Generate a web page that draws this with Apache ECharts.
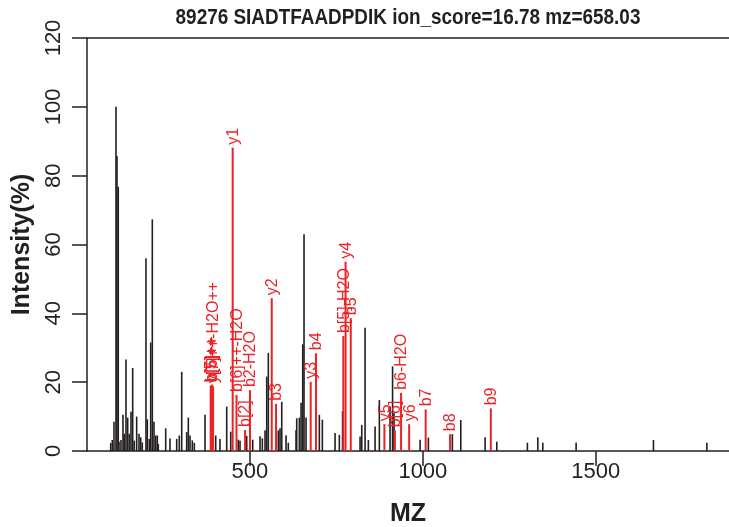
<!DOCTYPE html>
<html><head><meta charset="utf-8">
<script src="https://cdn.jsdelivr.net/npm/echarts@6/dist/echarts.min.js"></script>
<style>html,body{margin:0;padding:0;background:#fff}#c{width:729px;height:527px}</style>
</head><body><div id="c"></div>
<script>
// ---- data ----
const titleText = '89276 SIADTFAADPDIK ion_score=16.78 mz=658.03';
const xTicks = [500, 1000, 1500];
const yTicks = [0, 20, 40, 60, 80, 100, 120];

// unassigned peaks (black)
const peakMz = [97.5,102.1,107,112.8,115.7,119.4,121.5,127.2,133,136.8,141.7,146.6,151.2,156.2,161.1,165.7,172.6,179.3,184.2,188.8,
  199.5,203.3,209,213.1,217.8,222.7,227.6,232.2,235.1,256.5,268.9,288.3,295.8,302.8,317.2,321.9,326.8,333.4,339.2,370.2,
  401.1,413.5,432.9,444.5,466.5,471.4,490.7,508.1,529.2,535.9,543.7,548.6,553.2,582.1,587,592,604.4,611,633.3,635.3,
  642.9,647.8,652.7,656.4,662.2,700.7,709.4,746.1,758.5,767.8,818.4,823.3,832.9,842.4,861.8,874.2,905.1,912.4,916.7,991.9,
  1015.9,1085.3,1109.6,1179.9,1213.7,1302.2,1332.3,1346.7,1443,1666.6,1821];
const peakInt = [2.3,3.2,8.5,100,85.7,76.8,2.7,3.2,10.5,5,26.6,9.7,5,11.4,24.1,3,10,5,4,2.5,
  56,9.2,3.5,31.5,67.3,8.5,4.5,4.5,2,6.6,3.6,3.5,4.5,23,5.5,9.7,4.5,3.1,2.4,10.5,
  4.5,3.5,12.9,5.6,3.3,3,4.4,3.3,4.3,3.7,6,21.6,28.5,6,6.6,14.3,4.6,2.4,6,9.5,
  9.7,14,31,63,9.7,10.5,9.1,5.2,4.7,11.6,4.2,7.6,35.8,3.2,7.1,14.8,12.9,24.6,11,3.3,
  3.9,4.9,9,4,2.7,2.4,4,2.4,2.5,3.2,2.4];

// annotated fragment ions (red)
const ionMz = [386.5,390.5,393.5,450.2,461.2,486.0,500.3,563.1,575.5,675.7,691.0,770.0,776.5,791.5,888.8,919.1,936.9,960.3,1008.1,1078.6,1196.4];
const ionInt = [19.0,19.3,18.8,88.1,16.3,6.1,17.7,44.4,13.7,20.1,28.4,33.4,55.0,38.6,7.8,6.0,16.9,7.8,12.1,4.9,12.4];
const ionLabel = ['b[5]++','b[6]++','y[7]++-H2O++','y1','b[6]++-H2O','b[2]','b2-H2O','y2','b3','y3','b4','b[5]-H2O','y4','b5','y5','b[6]','b6-H2O','y6','b7','b8','b9'];

// ---- styles ----
const BLACK = '#231f20';
const RED = '#ec2227';
const FONT = '"Liberation Sans",Arial,Helvetica,sans-serif';

const chart = echarts.init(document.getElementById('c'), null, {renderer: 'canvas'});

function stickRenderer(color, width, labels) {
  return function (params, api) {
    const m = api.value(0), v = api.value(1);
    const p0 = api.coord([m, 0]);
    const p1 = api.coord([m, v]);
    const children = [{
      type: 'line',
      shape: {x1: p0[0], y1: p0[1], x2: p1[0], y2: p1[1]},
      style: {stroke: color, lineWidth: width}
    }];
    if (labels) {
      children.push({
        type: 'text', x: p1[0] + 1, y: p1[1] - 3, rotation: Math.PI / 2,
        style: {text: labels[params.dataIndex], fill: color, fontSize: 16, fontFamily: FONT,
                align: 'left', verticalAlign: 'middle'}
      });
    }
    return {type: 'group', children: children};
  };
}

const option = {
  animation: false,
  backgroundColor: '#ffffff',
  grid: {left: 87, right: 0, top: 38, bottom: 76, containLabel: false, outerBoundsMode: 'none'},
  graphic: [{
    type: 'text', x: 408, y: 18, scaleX: 0.86,
    style: {text: titleText, fill: BLACK, fontSize: 22, fontWeight: 'bold', fontFamily: FONT,
            align: 'center', verticalAlign: 'middle'}
  }],
  xAxis: [{
    type: 'value', min: 29, max: 1885,
    axisLine: {show: true, onZero: false, lineStyle: {color: BLACK, width: 1.5}},
    axisTick: {show: true, customValues: xTicks, length: 15, lineStyle: {color: BLACK, width: 1.5}},
    axisLabel: {show: true, customValues: xTicks, formatter: v => String(v), color: BLACK, fontSize: 22, fontFamily: FONT, margin: 10},
    splitLine: {show: false},
    name: 'MZ', nameLocation: 'middle', nameGap: 51,
    nameTextStyle: {color: BLACK, fontSize: 25, fontWeight: 'bold', fontFamily: FONT}
  }, {
    type: 'value', position: 'top', min: 29, max: 1885,
    axisLine: {show: true, onZero: false, lineStyle: {color: BLACK, width: 1.5}},
    axisTick: {show: false}, axisLabel: {show: false}, splitLine: {show: false}
  }],
  yAxis: {
    type: 'value', min: 0, max: 120, interval: 20,
    axisLine: {show: true, onZero: false, lineStyle: {color: BLACK, width: 1.5}},
    axisTick: {show: true, length: 15, lineStyle: {color: BLACK, width: 1.5}},
    axisLabel: {show: true, rotate: 90, formatter: v => String(v), color: BLACK, fontSize: 22, fontFamily: FONT, margin: 22},
    splitLine: {show: false},
    name: 'Intensity(%)', nameLocation: 'middle', nameGap: 51, nameRotate: 90,
    nameTextStyle: {color: BLACK, fontSize: 25, fontWeight: 'bold', fontFamily: FONT}
  },
  series: [{
    type: 'custom', xAxisIndex: 0, yAxisIndex: 0, clip: false,
    renderItem: stickRenderer(BLACK, 1.6, null),
    data: peakMz.map((m, i) => [m, peakInt[i]])
  }, {
    type: 'custom', xAxisIndex: 0, yAxisIndex: 0, clip: false,
    renderItem: stickRenderer(RED, 2, ionLabel),
    data: ionMz.map((m, i) => [m, ionInt[i]])
  }]
};
chart.setOption(option);
</script>
</body></html>
